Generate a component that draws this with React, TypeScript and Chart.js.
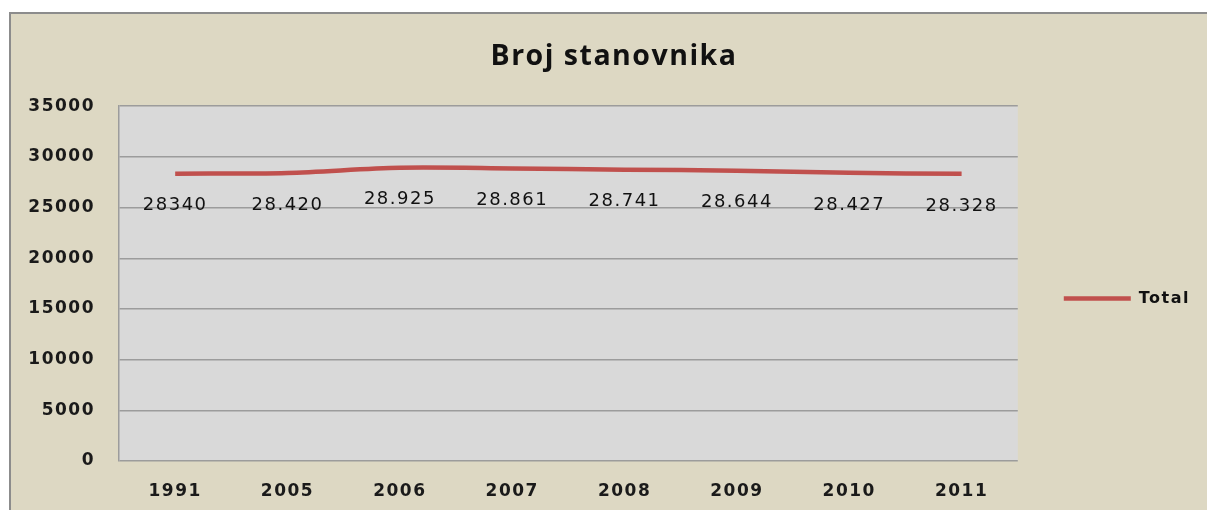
import React, { useEffect, useRef } from "react";
import { Chart, registerables } from "chart.js";

Chart.register(...registerables);

const categories = ["1991", "2005", "2006", "2007", "2008", "2009", "2010", "2011"];
const totalValues = [28340, 28420, 28925, 28861, 28741, 28644, 28427, 28328];
const valueLabels = ["28340", "28.420", "28.925", "28.861", "28.741", "28.644", "28.427", "28.328"];
const seriesName = "Total";
const chartTitle = "Broj stanovnika";
const yMin = 0;
const yMax = 35000;
const yStep = 5000;

const spacingPlugin = {
  id: "spacing",
  beforeUpdate(chart: any) {
    chart.ctx.letterSpacing = "1.5px";
  },
  beforeLayout(chart: any) {
    chart.ctx.letterSpacing = "1.5px";
  },
  beforeDraw(chart: any) {
    chart.ctx.letterSpacing = "1.5px";
    const { ctx, chartArea } = chart;
    ctx.save();
    ctx.fillStyle = "#d9d9d9";
    ctx.fillRect(chartArea.left, chartArea.top, chartArea.right - chartArea.left, chartArea.bottom - chartArea.top);
    ctx.restore();
  },
};

const dataLabelPlugin = {
  id: "dataLabels",
  afterDatasetsDraw(chart: any) {
    const { ctx } = chart;
    const meta = chart.getDatasetMeta(0);
    ctx.save();
    ctx.font = '18px "DejaVu Sans"';
    ctx.fillStyle = "#111111";
    ctx.textAlign = "center";
    ctx.textBaseline = "middle";
    meta.data.forEach((pt: any, i: number) => {
      ctx.fillText(valueLabels[i], pt.x, pt.y + 32);
    });
    ctx.restore();
  },
};

export default function App() {
  const canvasRef = useRef<HTMLCanvasElement | null>(null);

  useEffect(() => {
    if (!canvasRef.current) return;
    const chart = new Chart(canvasRef.current, {
      type: "line",
      data: {
        labels: categories,
        datasets: [
          {
            label: seriesName,
            data: totalValues,
            borderColor: "#c0504d",
            backgroundColor: "#c0504d",
            borderWidth: 4.5,
            tension: 0.3,
            pointRadius: 0,
            pointHoverRadius: 0,
            fill: false,
            pointStyle: "line",
          },
        ],
      },
      options: {
        animation: false,
        responsive: false,
        maintainAspectRatio: false,
        layout: { padding: { left: 17, right: 17, top: 0, bottom: 0 } },
        plugins: {
          tooltip: { enabled: false },
          title: {
            display: true,
            text: chartTitle,
            color: "#111111",
            font: { family: '"Open Sans"', size: 28.5, weight: "bold" },
            padding: { top: 26, bottom: 32 },
          },
          legend: {
            display: true,
            position: "right",
            fullSize: false,
            title: {
              display: true,
              text: " ",
              font: { size: 10 },
              padding: { top: 9, bottom: 9 },
            },
            labels: {
              usePointStyle: true,
              pointStyle: "line",
              pointStyleWidth: 67,
              padding: 46,
              color: "#111111",
              font: { family: '"DejaVu Sans"', size: 16, weight: "bold" },
            },
          },
        },
        scales: {
          x: {
            offset: true,
            grid: { display: false, drawTicks: false },
            border: { display: false },
            ticks: {
              color: "#1a1a1a",
              padding: 20,
              font: { family: '"DejaVu Sans"', size: 17, weight: "bold" },
            },
            afterFit(scale: any) {
              scale.height = 49;
            },
          },
          y: {
            min: yMin,
            max: yMax,
            grid: { color: "#9c9c9c", lineWidth: 1.5, drawTicks: false },
            border: { display: true, color: "#9c9c9c", width: 1.5 },
            ticks: {
              stepSize: yStep,
              color: "#1a1a1a",
              padding: 24,
              font: { family: '"DejaVu Sans"', size: 17, weight: "bold" },
              callback: (value: any) => String(value),
            },
            afterFit(scale: any) {
              scale.width = 91;
            },
          },
        },
      },
      plugins: [spacingPlugin, dataLabelPlugin],
    });
    return () => chart.destroy();
  }, []);

  return (
    <div
      style={{
        position: "fixed",
        left: 0,
        top: 0,
        width: 1207,
        height: 510,
        overflow: "hidden",
        background: "#ffffff",
      }}
    >
      <div
        style={{
          position: "absolute",
          left: 9,
          top: 12,
          width: 1220,
          height: 520,
          background: "#ddd8c3",
          borderLeft: "2px solid #8c8c8c",
          borderTop: "2px solid #8c8c8c",
        }}
      >
        <canvas ref={canvasRef} width={1206} height={496} style={{ display: "block", width: 1206, height: 496 }} />
      </div>
    </div>
  );
}
